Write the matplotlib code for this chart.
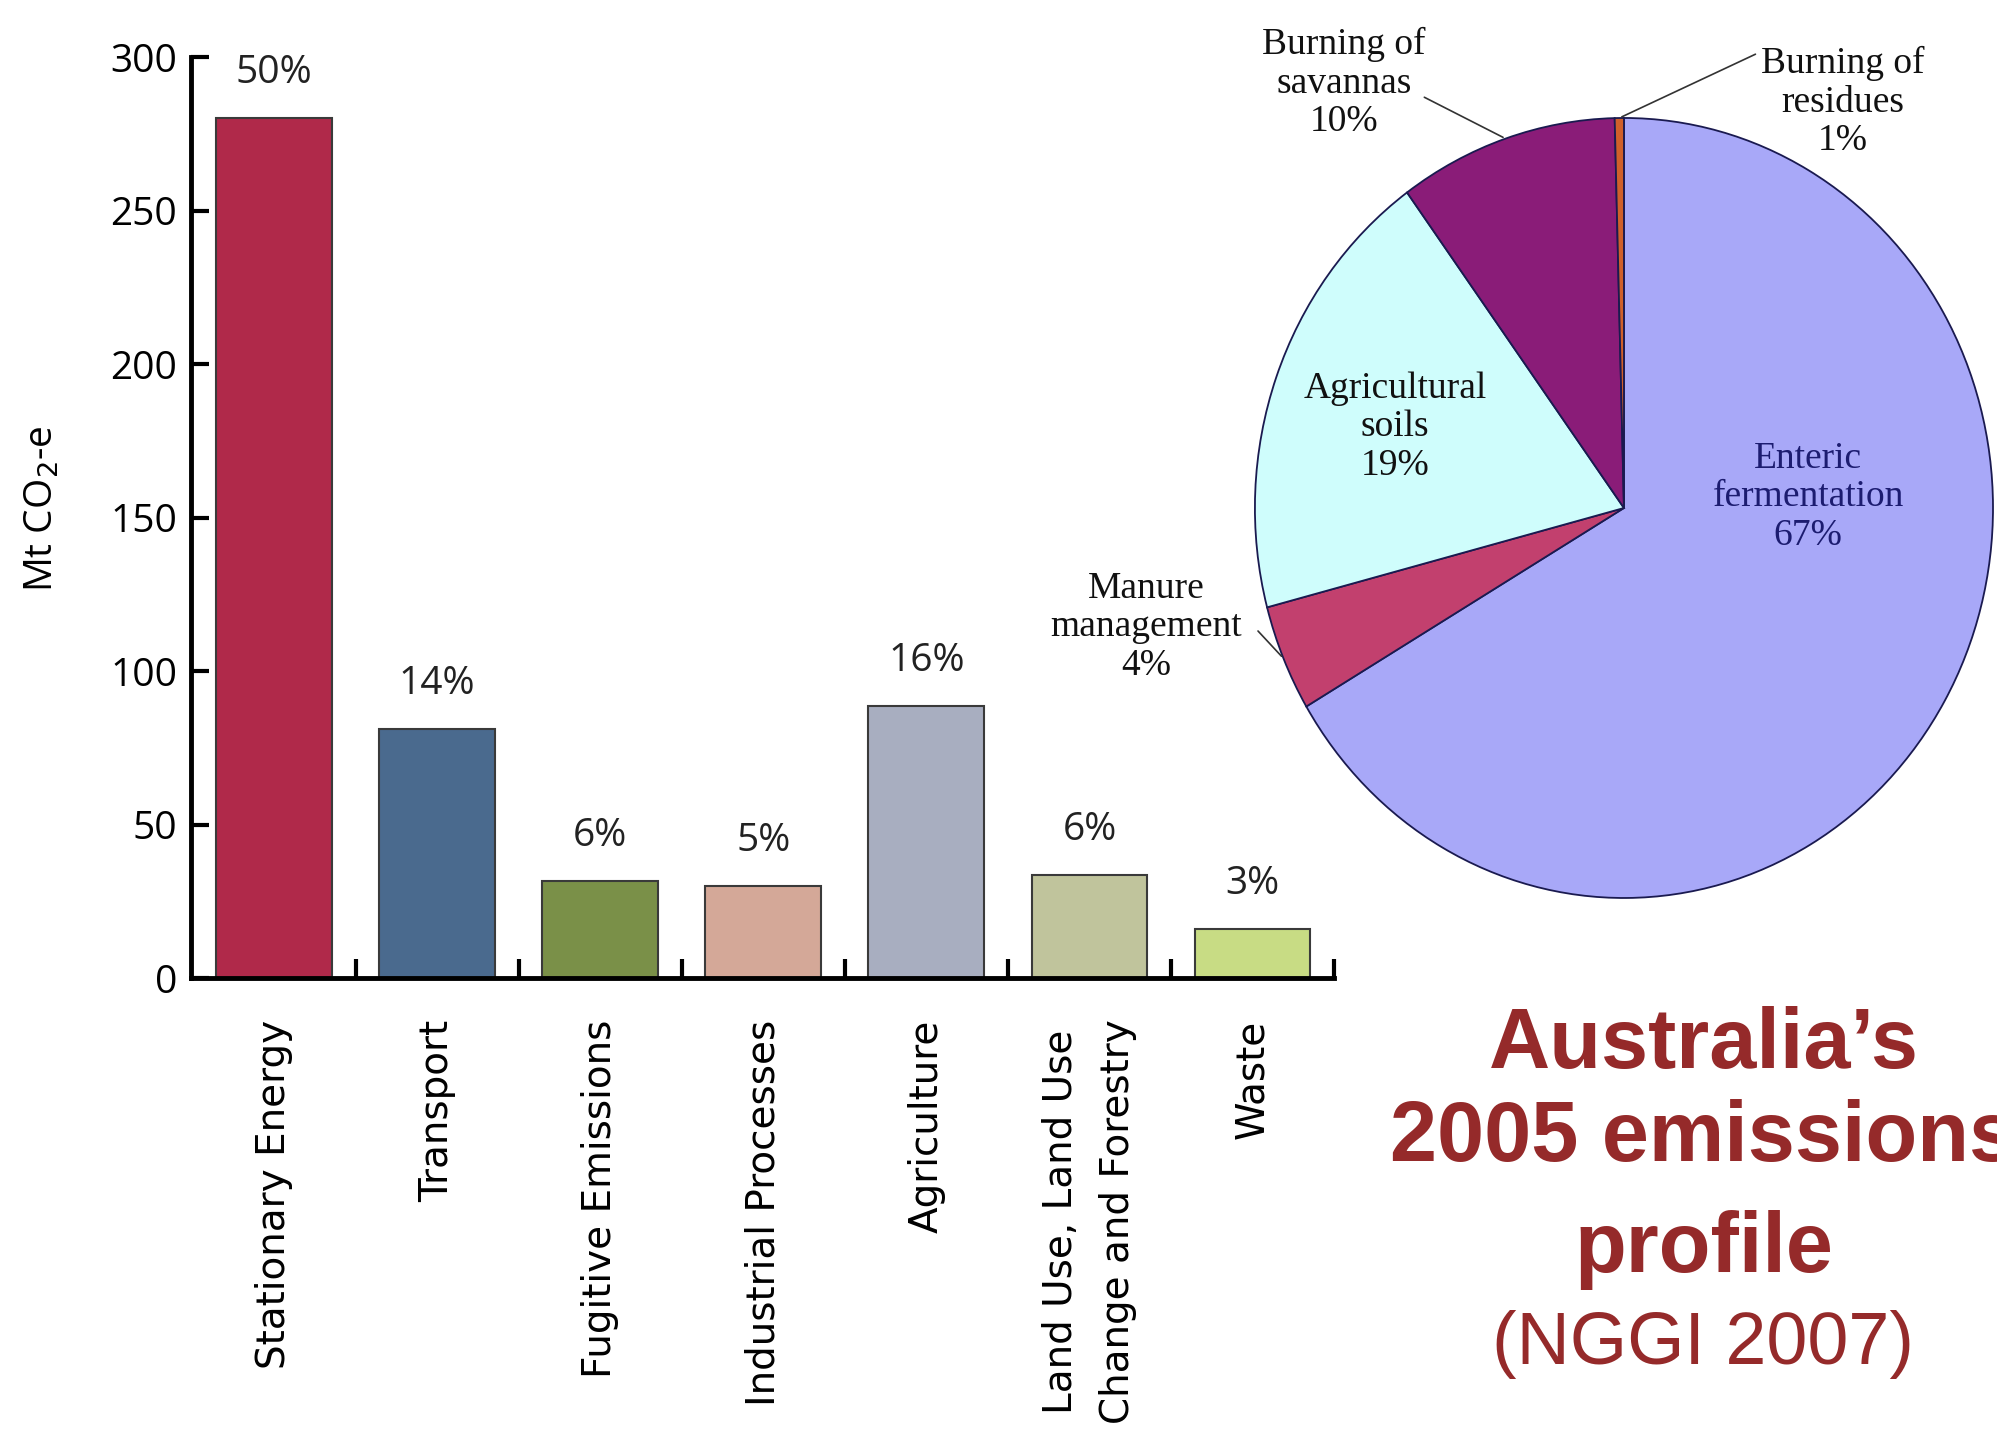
import matplotlib.pyplot as plt
import numpy as np

# --- bar chart data (Mt CO2-e) ---
sectors = ["Stationary Energy", "Transport", "Fugitive Emissions",
           "Industrial Processes", "Agriculture",
           "Land Use, Land Use\nChange and Forestry", "Waste"]
emissions = [280, 81, 31.5, 30, 88.5, 33.5, 16]
shares = ["50%", "14%", "6%", "5%", "16%", "6%", "3%"]
bar_colors = ["#B0294A", "#4A6A8E", "#7A9048", "#D4A898",
              "#A8AEC0", "#C0C49C", "#C8DC84"]

# --- agriculture breakdown pie ---
ag_sources = ["Enteric\nfermentation", "Manure\nmanagement", "Agricultural\nsoils",
              "Burning of\nsavannas", "Burning of\nresidues"]
ag_share = [66.5, 4.4, 19.1, 9.6, 0.4]
ag_labels = ["67%", "4%", "19%", "10%", "1%"]
ag_colors = ["#A8A8F8", "#C2406E", "#CFFDFC", "#8A1C78", "#D0602A"]

fig = plt.figure(figsize=(19.97, 14.37), dpi=100)
fig.patch.set_facecolor("white")

# ===== Bar chart =====
ax = fig.add_axes([0.0956, 0.3194, 0.5724, 0.6409])
x = np.arange(len(sectors))
ax.bar(x, emissions, width=0.71, color=bar_colors,
       edgecolor="#3a3a3a", linewidth=1.5, zorder=2)

for xi, v, s in zip(x, emissions, shares):
    ax.annotate(s, (xi, v), xytext=(0, 19), textcoords="offset points",
                ha="center", va="bottom", fontsize=28, family="Open Sans",
                color="#222222")

ax.set_xlim(-0.51, 6.5)
ax.set_ylim(0, 300)
ax.spines["top"].set_visible(False)
ax.spines["right"].set_visible(False)
ax.spines["left"].set_linewidth(3.5)
ax.spines["bottom"].set_linewidth(3.5)

ax.set_yticks(range(0, 301, 50))
ax.tick_params(axis="y", direction="in", length=13, width=3, pad=10,
               labelsize=28)
for lab in ax.get_yticklabels():
    lab.set_family("Open Sans")

ax.set_xticks(x)
ax.set_xticklabels(sectors, rotation=90, ha="center", va="top",
                   fontsize=28, family="DejaVu Sans", linespacing=1.65)
ax.tick_params(axis="x", length=0, pad=30)
ax.set_xticks(x + 0.5, minor=True)
ax.tick_params(axis="x", which="minor", direction="in", length=14, width=3)

ax.set_ylabel("Mt CO$_2$-e", fontsize=28, family="Open Sans")
ax.yaxis.set_label_coords(-0.113, 0.51)

# ===== Pie chart =====
ax2 = fig.add_axes([0.6284, 0.3751, 0.3696, 0.5428])
wedges, _ = ax2.pie(ag_share, colors=ag_colors, startangle=90,
                    counterclock=False,
                    wedgeprops=dict(edgecolor="#1a1a50", linewidth=1.3))
ax2.set_aspect("auto")
ax2.set_xlim(-1, 1)
ax2.set_ylim(-1, 1)

serif = "Liberation Serif"
label_pos = [(0.9054, 0.6541), (0.5739, 0.5637), (0.6985, 0.7029),
             (0.6730, 0.9422), (0.9229, 0.9290)]
label_col = ["#1c1c70", "#111111", "#111111", "#111111", "#111111"]
for name, pct, (fx, fy), c in zip(ag_sources, ag_labels, label_pos, label_col):
    fig.text(fx, fy, name + "\n" + pct, ha="center", va="center",
             fontsize=27, family=serif, color=c, linespacing=1.15)

# leader lines for the outside labels
leaders = {1: (0.6290, 0.5623), 3: (0.7120, 0.9332), 4: (0.8803, 0.9631)}
for i, (fx, fy) in leaders.items():
    w = wedges[i]
    mid = np.deg2rad((w.theta1 + w.theta2) / 2)
    ax2.annotate("", xy=(np.cos(mid), np.sin(mid)), xytext=(fx, fy),
                 textcoords="figure fraction",
                 arrowprops=dict(arrowstyle="-", color="#333333", lw=1.2))

# ===== Title =====
red = "#952A2A"
fig.text(0.853, 0.2722, "Australia\u2019s", ha="center", va="center",
         fontsize=61, fontweight="bold", family="Liberation Sans", color=red)
fig.text(0.853, 0.2074, "2005 emissions", ha="center", va="center",
         fontsize=61, fontweight="bold", family="Liberation Sans", color=red)
fig.text(0.853, 0.1302, "profile", ha="center", va="center",
         fontsize=61, fontweight="bold", family="Liberation Sans", color=red)
fig.text(0.853, 0.0641, "(NGGI 2007)", ha="center", va="center",
         fontsize=53, family="Liberation Sans", color=red)

fig.savefig("out.png", dpi=100)
